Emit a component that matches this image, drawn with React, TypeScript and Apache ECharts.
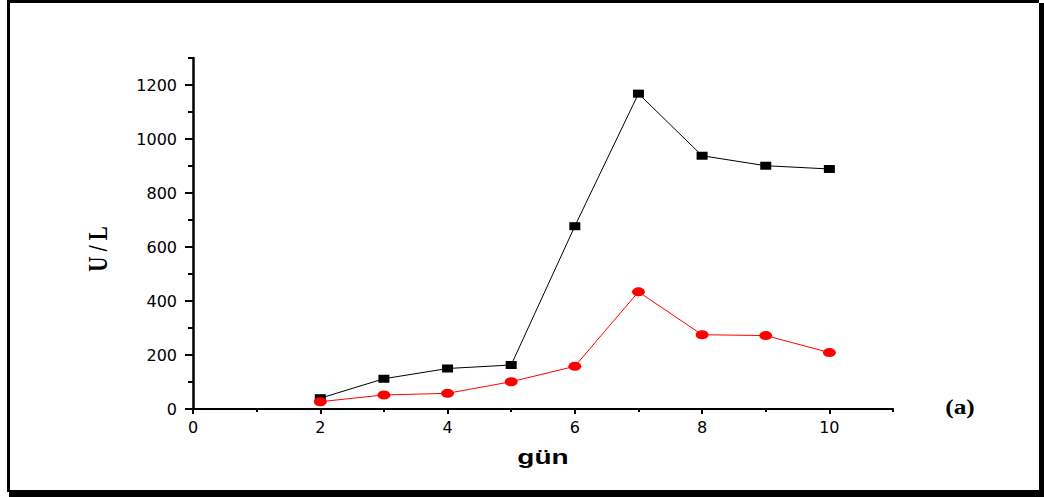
import React, { useEffect, useRef } from "react";
import * as echarts from "echarts";

const days = [2, 3, 4, 5, 6, 7, 8, 9, 10];
const blackValues = [40, 112, 150, 163, 677, 1168, 938, 901, 889];
const redValues = [27, 52, 58, 101, 158, 434, 275, 272, 209];
const yMajorTicks = [0, 200, 400, 600, 800, 1000, 1200];
const xMajorTicks = [0, 2, 4, 6, 8, 10];

const tickFont = { fontFamily: "DejaVu Sans", fontSize: 16, color: "#000" };

export default function App() {
  const ref = useRef<HTMLDivElement>(null);
  useEffect(() => {
    if (!ref.current) return;
    const chart = echarts.init(ref.current, null, { renderer: "svg" });
    const ellipse = "path://M0,5A5,5,0,1,1,10,5A5,5,0,1,1,0,5Z";
    chart.setOption({
      animation: false,
      backgroundColor: "#fff",
      grid: { left: 193, right: 151, top: 58, bottom: 88, containLabel: false },
      xAxis: [
        {
          type: "value",
          min: 0,
          max: 11,
          interval: 2,
          splitLine: { show: false },
          axisLine: { show: true, lineStyle: { color: "#000", width: 2 } },
          axisTick: { show: true, length: 5, customValues: xMajorTicks, lineStyle: { color: "#000", width: 2 } },
          axisLabel: { customValues: xMajorTicks, margin: 10, formatter: (v: number) => String(v), ...tickFont },
        },
        {
          type: "value",
          min: 0,
          max: 11,
          interval: 1,
          position: "bottom",
          splitLine: { show: false },
          axisLine: { show: false },
          axisTick: { show: true, length: 3, lineStyle: { color: "#000", width: 2 } },
          axisLabel: { show: false },
        },
      ],
      yAxis: [
        {
          type: "value",
          min: 0,
          max: 1300,
          interval: 200,
          splitLine: { show: false },
          axisLine: { show: true, lineStyle: { color: "#000", width: 2.5 } },
          axisTick: { show: true, length: 8, customValues: yMajorTicks, lineStyle: { color: "#000", width: 2 } },
          axisLabel: { customValues: yMajorTicks, margin: 16, formatter: (v: number) => String(v), ...tickFont },
        },
        {
          type: "value",
          min: 0,
          max: 1300,
          interval: 100,
          position: "left",
          splitLine: { show: false },
          axisLine: { show: false },
          axisTick: { show: true, length: 5, lineStyle: { color: "#000", width: 2 } },
          axisLabel: { show: false },
        },
      ],
      series: [
        {
          type: "line",
          data: days.map((d, i) => [d, blackValues[i]]),
          symbol: "rect",
          symbolSize: [11, 8],
          showAllSymbol: true,
          lineStyle: { color: "#000", width: 1 },
          itemStyle: { color: "#000" },
        },
        {
          type: "line",
          data: days.map((d, i) => [d, redValues[i]]),
          symbol: ellipse,
          symbolSize: [13, 9],
          showAllSymbol: true,
          lineStyle: { color: "#ff0000", width: 1 },
          itemStyle: { color: "#ff0000" },
        },
      ],
      graphic: [
        { type: "rect", shape: { x: 7, y: 0, width: 1032, height: 3 }, style: { fill: "#000" } },
        { type: "rect", shape: { x: 7, y: 0, width: 3, height: 492 }, style: { fill: "#000" } },
        { type: "rect", shape: { x: 1039, y: 3, width: 5, height: 494 }, style: { fill: "#000" } },
        { type: "rect", shape: { x: 9, y: 490, width: 1035, height: 7 }, style: { fill: "#000" } },
        {
          type: "text",
          x: 97,
          y: 249,
          rotation: Math.PI / 2,
          scaleY: 1.3,
          style: {
            text: "U / L",
            fontFamily: "Liberation Serif",
            fontWeight: "bold",
            fontSize: 21,
            fill: "#000",
            align: "center",
            verticalAlign: "middle",
          },
        },
        {
          type: "text",
          x: 543,
          y: 457,
          scaleX: 1.4,
          style: {
            text: "gün",
            fontFamily: "Liberation Sans",
            fontWeight: "bold",
            fontSize: 20,
            fill: "#000",
            align: "center",
            verticalAlign: "middle",
          },
        },
        {
          type: "text",
          x: 960,
          y: 407,
          scaleX: 1.15,
          style: {
            text: "(a)",
            fontFamily: "Liberation Serif",
            fontWeight: "bold",
            fontSize: 22,
            fill: "#000",
            align: "center",
            verticalAlign: "middle",
          },
        },
      ],
    });
    return () => chart.dispose();
  }, []);
  return (
    <div
      ref={ref}
      style={{ position: "fixed", left: 0, top: 0, width: 1044, height: 497, background: "#fff" }}
    />
  );
}
